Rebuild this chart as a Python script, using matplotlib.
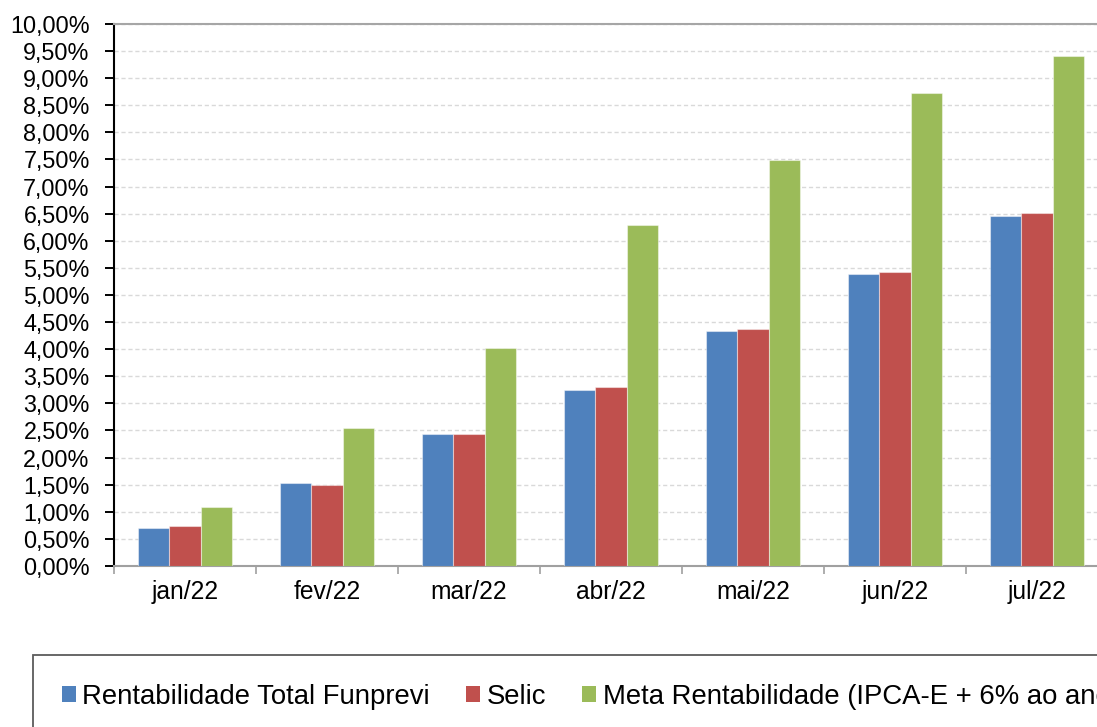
import matplotlib
matplotlib.use("Agg")
import matplotlib.pyplot as plt
from matplotlib.ticker import FuncFormatter, MultipleLocator, FixedLocator
import numpy as np

plt.rcParams['font.family'] = ['Liberation Sans', 'DejaVu Sans']

months = ["jan/22", "fev/22", "mar/22", "abr/22", "mai/22", "jun/22", "jul/22"]
funprevi = [0.71, 1.54, 2.44, 3.25, 4.34, 5.38, 6.46]
selic = [0.74, 1.50, 2.44, 3.30, 4.37, 5.42, 6.51]
meta = [1.09, 2.54, 4.02, 6.30, 7.49, 8.73, 9.41]

series_names = ["Rentabilidade Total Funprevi", "Selic",
                "Meta Rentabilidade (IPCA-E + 6% ao ano)"]
colors = ["#4F81BD", "#C0504D", "#9BBB59"]


def pct_br(v, pos):
    return "{0:.2f}%".format(v).replace(".", ",")


W, H = 1097, 727
fig = plt.figure(figsize=(W / 100, H / 100), dpi=100)
# axes runs a bit past the right edge, as in the cropped original
ax = fig.add_axes([114 / W, (H - 566) / H, (1108 - 114) / W, (566 - 24) / H])

x = np.arange(len(months))
bw = 0.222
bars = []
for i, (vals, c) in enumerate(zip([funprevi, selic, meta], colors)):
    b = ax.bar(x + (i - 1) * bw, vals, bw, color=c,
               edgecolor=(1, 1, 1, 0.45), linewidth=0.8, zorder=3)
    bars.append(b)

ax.set_xlim(-0.5, len(months) - 0.5)
ax.set_ylim(0, 10)

ax.yaxis.set_major_locator(MultipleLocator(0.5))
ax.yaxis.set_major_formatter(FuncFormatter(pct_br))
ax.grid(axis="y", color="#d9d9d9", linestyle=(0, (3, 2)), linewidth=1, zorder=0)

ax.set_xticks(x)
ax.set_xticklabels(months)
ax.xaxis.set_minor_locator(FixedLocator(np.arange(len(months) + 1) - 0.5))
ax.tick_params(axis="x", which="major", length=0, pad=10, labelsize=17.7)
ax.tick_params(axis="x", which="minor", length=6, width=1.2, color="#a0a0a0",
               direction="out")
ax.tick_params(axis="y", length=6.5, width=1.4, color="black", pad=11,
               labelsize=16.8, direction="out")

ax.spines["left"].set_color("black")
ax.spines["left"].set_linewidth(1.5)
ax.spines["bottom"].set_color("#a0a0a0")
ax.spines["bottom"].set_linewidth(1.5)
ax.spines["top"].set_color("#a6a6a6")
ax.spines["top"].set_linewidth(1.5)
ax.spines["right"].set_visible(False)

leg = fig.legend([b[0] for b in bars], series_names, ncol=3,
                 loc="upper left", bbox_to_anchor=(32.7 / W, 1 - 654.7 / H),
                 fontsize=19.8, frameon=True, fancybox=False, shadow=False,
                 borderpad=1.05, borderaxespad=0, handlelength=0.51,
                 handleheight=0.51, handletextpad=0.25, columnspacing=1.3)
leg.get_frame().set_edgecolor("#333333")
leg.get_frame().set_linewidth(1.3)
for h in leg.legend_handles:
    h.set_edgecolor("none")

fig.savefig("out.png", dpi=100)
